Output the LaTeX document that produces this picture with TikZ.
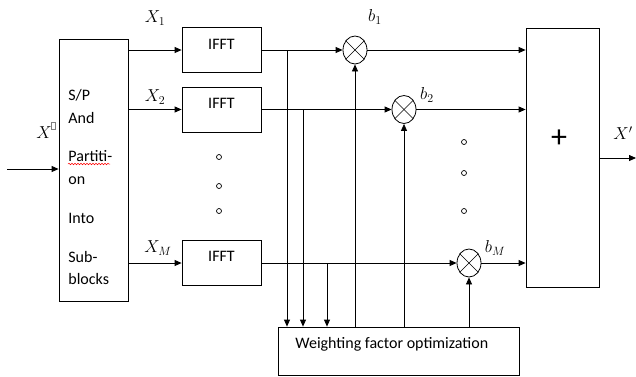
\documentclass[tikz,border=0pt]{standalone}
\usepackage{fontspec}
\setmainfont{Carlito}
\usetikzlibrary{arrows.meta,shapes.geometric,decorations.pathmorphing}
\begin{document}
\begin{tikzpicture}[x=1pt,y=-1pt,
  line width=0.8pt,
  arr/.style={-{Triangle[length=7pt,width=6pt]}},
  box/.style={draw,rectangle,inner sep=0pt},
  ifftbox/.style={box,minimum width=79pt,minimum height=45pt},
  mult/.style={draw,ellipse,minimum width=24pt,minimum height=28pt,inner sep=0pt},
  lab/.style={inner sep=0pt,font=\fontsize{17}{19}\selectfont},
  dot/.style={draw,circle,minimum size=5pt,inner sep=0pt,line width=0.7pt},
  txt/.style={inner sep=0pt,anchor=base west,font=\fontsize{16}{18}\selectfont}]
\useasboundingbox (0,0) rectangle (636,376);
% S/P block
\node[box,minimum width=69pt,minimum height=262pt] (sp) at (93.5,170) {};
\node[txt] (t1) at (68,100) {S/P};
\node[txt] (t2) at (68,123) {And};
\node[txt] (t3) at (68,161) {Partiti-};
\node[txt] (t4) at (68,184) {on};
\node[txt] (t5) at (68,223) {Into};
\node[txt] (t6) at (68,262) {Sub-};
\node[txt] (t7) at (68,284) {blocks};
\draw[red,line width=0.5pt,decorate,decoration={snake,amplitude=0.8pt,segment length=3pt}] (t3.base west)++(0,3) -- ++(42,0);
\coordinate (in) at (7,169);
\draw[arr] (in) -- (in -| sp.west);
\node[lab] (xin) at (44,133) {$X$};
\draw[line width=0.4pt,gray] (51,122) rectangle (55,129);
% IFFT blocks
\node[ifftbox] (f1) at (221.5,50) {};
\node[ifftbox] (f2) at (221.5,109.5) {};
\node[ifftbox] (f3) at (221.5,263) {};
\node[txt,anchor=base] (f1t) at (221.5,49) {IFFT};
\node[txt,anchor=base] (f2t) at (221.5,108) {IFFT};
\node[txt,anchor=base] (f3t) at (221.5,261) {IFFT};
\draw[arr] (sp.east |- f1) -- (f1.west);
\draw[arr] (sp.east |- f2) -- (f2.west);
\draw[arr] (sp.east |- f3) -- (f3.west);
\node[lab] (x1) at (155,18) {$X_1$};
\node[lab] (x2) at (155,97) {$X_2$};
\node[lab] (xm) at (158,248) {$X_M$};
% dots
\node[dot] (d1) at (219,157) {};
\node[dot] (d2) at (219,186) {};
\node[dot] (d3) at (219,211) {};
\node[dot] (d4) at (464,142) {};
\node[dot] (d5) at (464,173) {};
\node[dot] (d6) at (464,211) {};
% multipliers
\node[mult] (m1) at (355,50) {};
\node[mult] (m2) at (404,109.5) {};
\node[mult] (m3) at (469,263) {};
\foreach \m in {m1,m2,m3}{
  \draw[line width=0.6pt] (\m.45) -- (\m.225);
  \draw[line width=0.6pt] (\m.135) -- (\m.315);
}
\node[lab] (b1) at (375,17) {$b_1$};
\node[lab] (b2) at (427,95) {$b_2$};
\node[lab] (bm) at (495,248) {$b_M$};
% sum block
\node[box,minimum width=73pt,minimum height=259pt] (sum) at (562.5,157.5) {};
\node[inner sep=0pt,font=\fontsize{32}{32}\selectfont] (plus) at (559,139) {+};
\coordinate (out) at (636,158);
\draw[arr] (sum.east |- out) -- (out);
\node[lab] (xo) at (623,133) {$X'$};
% weighting block
\node[box,minimum width=241pt,minimum height=48pt] (w) at (398.5,351) {};
\node[txt] (wt) at (295,348) {Weighting factor optimization};
% signal lines
\draw[arr] (f1.east) -- (m1.west);
\draw[arr] (f2.east) -- (m2.west);
\draw[arr] (f3.east) -- (m3.west);
\draw[arr] (m1.east) -- (m1.east -| sum.west);
\draw[arr] (m2.east) -- (m2.east -| sum.west);
\draw[arr] (m3.east) -- (m3.east -| sum.west);
% branches to optimizer
\coordinate (br1) at (287,50);
\coordinate (br2) at (303,109.5);
\coordinate (br3) at (327,263);
\draw[arr] (br1) -- (br1 |- w.north);
\draw[arr] (br2) -- (br2 |- w.north);
\draw[arr] (br3) -- (br3 |- w.north);
% weights to multipliers
\draw[arr] (w.north -| m1.south) -- (m1.south);
\draw[arr] (w.north -| m2.south) -- (m2.south);
\draw[arr] (w.north -| m3.south) -- (m3.south);
\end{tikzpicture}
\end{document}
